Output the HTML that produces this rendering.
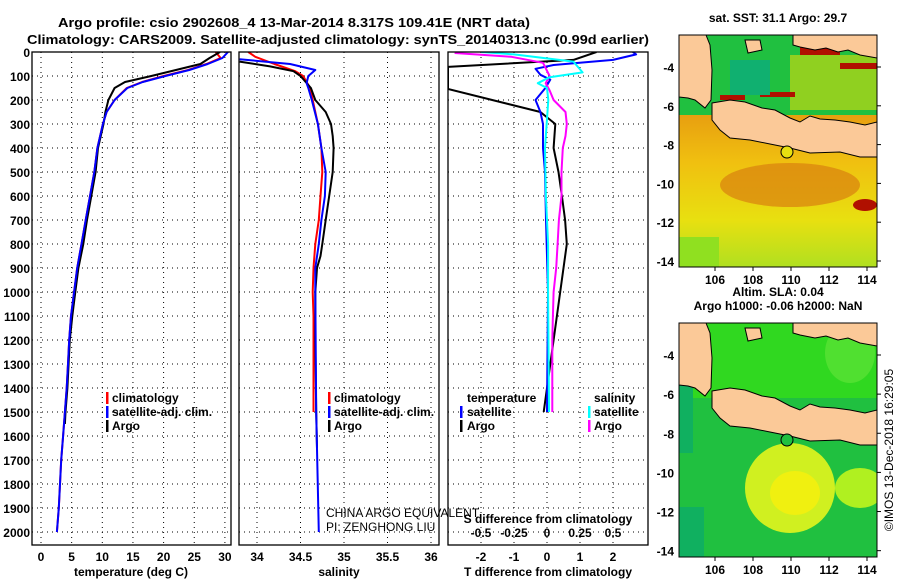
<!DOCTYPE html>
<html><head><meta charset="utf-8"><style>
html,body{margin:0;padding:0;background:#fff;}
svg{display:block;font-family:"Liberation Sans",sans-serif;}
.t{font-weight:bold;font-size:13px;fill:#000;}
.tk{font-weight:bold;font-size:12px;fill:#000;}
.nb{font-weight:normal;}
.g{stroke:#000;stroke-width:1;stroke-dasharray:1,4;}
</style></head><body>
<svg id="fig" width="900" height="580" viewBox="0 0 900 580" xmlns="http://www.w3.org/2000/svg">
<text class="t" x="294" y="27" text-anchor="middle" font-size="14" textLength="472" lengthAdjust="spacingAndGlyphs">Argo profile: csio 2902608_4 13-Mar-2014 8.317S 109.41E (NRT data)</text>
<text class="t" x="338" y="44" text-anchor="middle" font-size="14" textLength="622" lengthAdjust="spacingAndGlyphs">Climatology: CARS2009. Satellite-adjusted climatology: synTS_20140313.nc (0.99d earlier)</text>
<g id="panels"></g>
<g id="maps"></g>
<text class="tk nb" transform="translate(893,450) rotate(-90)" text-anchor="middle" font-size="12">©IMOS 13-Dec-2018 16:29:05</text>
</svg>
<script>
// ---------- data ----------
const depthTicks = [0,100,200,300,400,500,600,700,800,900,1000,1100,1200,1300,1400,1500,1600,1700,1800,1900,2000];
const tempTicks = [0,5,10,15,20,25,30];
const salTicks = [34,34.5,35,35.5,36];
const tdiffTicks = [-2,-1,0,1,2];
const sdiffTicks = [-0.5,-0.25,0,0.25,0.5];
const sdiffTickLabels = ['-0.5','-0.25','0','0.25','0.5'];

const tArgoDepth = [0,25,50,75,100,125,150,200,250,300,400,500,600,700,800,900,1000,1100,1200,1300,1400,1500,1550];
const tArgo      = [29.2,27.5,26,22,18,13.7,12,11,10.5,10.2,9.3,8.9,8.2,7.5,6.9,6.1,5.6,5.1,4.7,4.5,4.3,4.0,3.9];
const tClimDepth = [0,25,50,75,100,125,150,200,250,300,400,500,600,700,800,900,1000,1100,1200,1300,1400,1500,1600,1700,1800,1900,2000];
const tClim      = [28.5,29.3,27,24,20,16.5,14,12,10.7,10.1,9.2,8.7,8.0,7.3,6.6,5.9,5.4,4.9,4.6,4.4,4.2,3.9,3.6,3.3,3.1,2.9,2.6];
const tSat       = [30.5,29.6,27.2,24.2,20.3,16.6,14.1,12,10.7,10.1,9.2,8.7,8.0,7.3,6.6,5.9,5.4,4.9,4.6,4.4,4.2,3.9,3.6,3.3,3.1,2.9,2.6];

const sArgoDepth = [40,60,80,100,150,200,250,300,350,400,500,600,700,800,850,900,1000,1200,1500,1650];
const sArgo      = [33.8,34.15,34.42,34.5,34.62,34.67,34.79,34.85,34.87,34.88,34.87,34.83,34.79,34.75,34.73,34.69,34.67,34.67,34.68,34.69];
const sClimDepth = [0,20,50,80,100,150,200,300,400,500,600,700,800,900,1000,1100,1500];
const sClim      = [33.9,33.98,34.2,34.44,34.53,34.61,34.64,34.7,34.74,34.75,34.73,34.71,34.67,34.65,34.64,34.65,34.65];
const sSatDepth  = [30,50,75,100,130,150,200,300,400,500,600,700,800,900,1000,1500,2000];
const sSat       = [33.8,34.38,34.67,34.59,34.57,34.59,34.63,34.7,34.74,34.79,34.78,34.74,34.71,34.67,34.67,34.68,34.71];

const dTArgoDepth = [0,33,62,154,250,300,400,500,600,700,800,900,1000,1100,1200,1300,1400,1500];
const dTArgo      = [1.5,0.8,-3,-3,-0.2,0.25,0.2,0.35,0.45,0.55,0.6,0.5,0.4,0.3,0.2,0.1,0.0,-0.1];
const dTSatDepth  = [0,10,33,54,70,95,115,150,200,250,300,400,500,700,1000,1500];
const dTSat       = [2.6,2.7,2.0,0.2,-0.35,-0.2,0.1,-0.05,-0.35,-0.2,-0.12,-0.12,-0.06,-0.03,0.03,0.0];
const dSSatDepth  = [0,10,40,85,105,130,150,200,400,600,800,1000,1500];
const dSSat       = [-0.5,-0.25,0.2,0.27,0.02,-0.07,0,0.01,-0.015,-0.008,0.008,0.008,0.015];
const dSArgoDepth = [4,20,45,100,130,160,200,250,300,350,400,500,600,700,800,900,1000,1100,1200,1500];
const dSArgo      = [-0.7,-0.27,-0.03,0.02,-0.01,0.02,0.05,0.14,0.15,0.14,0.12,0.11,0.11,0.09,0.08,0.07,0.05,0.045,0.04,0.04];

// ---------- helpers ----------
const NS='http://www.w3.org/2000/svg';
const TOP=52, BOT=545;
const yD = d => TOP + d*0.24;
const xT = v => 41 + v*6.13;
const xS = v => 257 + (v-34)*87;
const xDT = v => 547 + v*33;
const xDS = v => 547 + v*132;
function mk(tag, attrs, parent){const e=document.createElementNS(NS,tag);for(const k in attrs)e.setAttribute(k,attrs[k]);parent.appendChild(e);return e;}
const panels=document.getElementById('panels');

function frame(x0,x1,name){
  const g=mk('g',{},panels);
  
  
  const cp=mk('clipPath',{id:'c'+name},g);
  mk('rect',{x:x0,y:TOP,width:x1-x0,height:BOT-TOP},cp);
  depthTicks.forEach(d=>{ if(d>0){ const l=mk('line',{x1:x0,x2:x1,y1:yD(d),y2:yD(d),class:'g'},g);   }});
  return g;
}
function border(g,x0,x1){
  const r=mk('rect',{x:x0,y:TOP,width:x1-x0,height:BOT-TOP,fill:'none',stroke:'#000','stroke-width':1.3},g);
  
  
}
function vgrid(g,xs){xs.forEach(x=>{const l=mk('line',{x1:x,x2:x,y1:TOP,y2:BOT,class:'g'},g);  });}
function line(g,depths,vals,fx,color,name,clip,w){
  const pts=depths.map((d,i)=>fx(vals[i]).toFixed(1)+','+yD(d).toFixed(1)).join(' ');
  const p=mk('polyline',{points:pts,fill:'none',stroke:color,'stroke-width':w||2,'clip-path':'url(#c'+clip+')','stroke-linejoin':'round'},g);
  
  
}
function txt(g,x,y,s,anchor,name,cls,extra){
  const t=mk('text',Object.assign({x:x,y:y,'text-anchor':anchor||'start',class:cls||'tk'},extra||{}),g);
  t.textContent=s;
  
  
  return t;
}
function legendMark(g,x,y,color){
  const r=mk('rect',{x:x,y:y-10,width:2.5,height:12,fill:color},g);
  
  
}

// y-axis labels
const ya=mk('g',{},panels);


depthTicks.forEach(d=>txt(ya,30,yD(d)+5,String(d),'end','depth-tick-label'));

// ---- panel 1 temperature
let g1=frame(32,231,'temp-panel');
vgrid(g1,tempTicks.map(xT));
line(g1,tClimDepth,tClim,xT,'#f00','temp-climatology-line','temp-panel');
line(g1,tArgoDepth,tArgo,xT,'#000','temp-argo-line','temp-panel');
line(g1,tClimDepth,tSat,xT,'#0000ff','temp-satellite-line','temp-panel');
border(g1,32,231);
tempTicks.forEach(v=>txt(g1,xT(v),561,String(v),'middle','temp-tick-label'));
txt(g1,131,576,'temperature (deg C)','middle','temp-axis-title');
legendMark(g1,106,402,'#f00');txt(g1,112,402,'climatology','start','legend-climatology');
legendMark(g1,106,416,'#0000ff');txt(g1,112,416,'satellite-adj. clim.','start','legend-satellite');
legendMark(g1,106,430,'#000');txt(g1,112,430,'Argo','start','legend-argo');

// ---- panel 2 salinity
let g2=frame(239,439,'sal-panel');
vgrid(g2,salTicks.map(xS));
line(g2,sClimDepth,sClim,xS,'#f00','sal-climatology-line','sal-panel');
line(g2,sArgoDepth,sArgo,xS,'#000','sal-argo-line','sal-panel');
line(g2,sSatDepth,sSat,xS,'#0000ff','sal-satellite-line','sal-panel');
border(g2,239,439);
salTicks.forEach(v=>txt(g2,xS(v),561,String(v),'middle','sal-tick-label'));
txt(g2,339,576,'salinity','middle','sal-axis-title');
legendMark(g2,328,402,'#f00');txt(g2,334,402,'climatology','start','legend-climatology');
legendMark(g2,328,416,'#0000ff');txt(g2,334,416,'satellite-adj. clim.','start','legend-satellite');
legendMark(g2,328,430,'#000');txt(g2,334,430,'Argo','start','legend-argo');
txt(g2,326,517,'CHINA ARGO EQUIVALENT','start','float-owner-note','tk nb');
txt(g2,326,531,'PI: ZENGHONG LIU','start','pi-note','tk nb');

// ---- panel 3 differences
let g3=frame(448,648,'diff-panel');
vgrid(g3,tdiffTicks.map(xDT));
line(g3,dTArgoDepth,dTArgo,xDT,'#000','tdiff-argo-line','diff-panel');
line(g3,dTSatDepth,dTSat,xDT,'#0000ff','tdiff-satellite-line','diff-panel');
line(g3,dSArgoDepth,dSArgo,xDS,'#ff00ff','sdiff-argo-line','diff-panel');
line(g3,dSSatDepth,dSSat,xDS,'#00ffff','sdiff-satellite-line','diff-panel');
border(g3,448,648);
tdiffTicks.forEach(v=>txt(g3,xDT(v),561,String(v),'middle','tdiff-tick-label'));
txt(g3,548,576,'T difference from climatology','middle','tdiff-axis-title');
sdiffTicks.forEach((v,i)=>txt(g3,xDS(v),537,sdiffTickLabels[i],'middle','sdiff-tick-label'));
txt(g3,548,523,'S difference from climatology','middle','sdiff-axis-title');
txt(g3,467,402,'temperature','start','legend-temperature-heading');
legendMark(g3,460,416,'#0000ff');txt(g3,467,416,'satellite','start','legend-t-satellite');
legendMark(g3,460,430,'#000');txt(g3,467,430,'Argo','start','legend-t-argo');
txt(g3,594,402,'salinity','start','legend-salinity-heading');
legendMark(g3,588,416,'#00ffff');txt(g3,594,416,'satellite','start','legend-s-satellite');
legendMark(g3,588,430,'#ff00ff');txt(g3,594,430,'Argo','start','legend-s-argo');

// ---------- maps ----------
const mapLons=[106,108,110,112,114];
const mapLats=[-4,-6,-8,-10,-12,-14];
const maps=document.getElementById('maps');
const landSumatra=[[679,35],[706,35],[710,45],[712,70],[711,100],[705,108],[695,100],[688,98],[679,97]];
const landIsle=[[745,40],[760,40],[762,50],[748,53]];
const landBorneo=[[793,35],[877,35],[877,58],[860,55],[848,50],[838,52],[826,48],[815,50],[800,47],[793,45]];
const landJava=[[712,103],[730,100],[745,102],[762,108],[775,110],[790,118],[800,122],[810,116],[820,119],[835,120],[850,122],[865,125],[877,122],[877,157],[860,157],[840,152],[810,153],[790,148],[770,144],[750,140],[730,138],[720,130],[712,120]];
function poly(g,pts,dy,fill,name){
  const p=mk('polygon',{points:pts.map(p=>p[0]+','+(p[1]+dy)).join(' '),fill:fill,stroke:'#000','stroke-width':1},g);
  
  
}
function map(top,h,dy,kind,title1,title2){
  const g=mk('g',{},maps);
  
  
  const id='m'+kind;
  const defs=mk('defs',{},g);
  const cp=mk('clipPath',{id:id},defs);
  mk('rect',{x:679,y:top,width:198,height:h},cp);
  const b=mk('g',{'clip-path':'url(#'+id+')'},g);
  if(kind==='sst'){
    const lg=mk('linearGradient',{id:'gs',x1:0,y1:0,x2:0,y2:1},defs);
    [['0','#f0c020'],['0.35','#e8a010'],['0.55','#f0c010'],['0.8','#e8e010'],['1','#b0e020']].forEach(s=>mk('stop',{offset:s[0],'stop-color':s[1]},lg));
    mk('rect',{x:679,y:top,width:198,height:h,fill:'url(#gs)'},b);
    mk('rect',{x:679,y:top,width:198,height:80,fill:'#20c040'},b);
    mk('rect',{x:790,y:top+20,width:87,height:55,fill:'#90d020'},b);
    mk('rect',{x:800,y:top+12,width:40,height:8,fill:'#b01000'},b);
    mk('rect',{x:840,y:top+28,width:37,height:6,fill:'#b01000'},b);
    mk('rect',{x:760,y:top+57,width:35,height:5,fill:'#b01000'},b);
    mk('rect',{x:720,y:top+60,width:25,height:5,fill:'#b01000'},b);
    mk('rect',{x:730,y:top+25,width:40,height:35,fill:'#10b070'},b);
    mk('ellipse',{cx:790,cy:top+150,rx:70,ry:22,fill:'#d88010',opacity:0.7},b);
    mk('ellipse',{cx:865,cy:top+170,rx:12,ry:6,fill:'#b01000'},b);
    mk('rect',{x:679,y:top+h-30,width:40,height:30,fill:'#90e020'},b);
  } else {
    mk('rect',{x:679,y:top,width:198,height:h,fill:'#30d820'},b);
    mk('rect',{x:679,y:top+75,width:198,height:h-75,fill:'#20c040'},b);
    mk('rect',{x:679,y:top+60,width:14,height:70,fill:'#10b060'},b);
    mk('rect',{x:679,y:top+h-50,width:25,height:50,fill:'#10b060'},b);
    mk('ellipse',{cx:790,cy:top+165,rx:45,ry:45,fill:'#d0f020'},b);
    mk('ellipse',{cx:795,cy:top+170,rx:25,ry:22,fill:'#f0f010'},b);
    mk('ellipse',{cx:860,cy:top+165,rx:25,ry:20,fill:'#b0f020'},b);
    mk('ellipse',{cx:850,cy:top+30,rx:25,ry:30,fill:'#50e030'},b);
  }
  poly(b,landSumatra,dy,'#fbc998','land-sumatra');
  poly(b,landIsle,dy,'#fbc998','land-island');
  poly(b,landBorneo,dy,'#fbc998','land-borneo');
  poly(b,landJava,dy,'#fbc998','land-java');
  const c=mk('circle',{cx:787,cy:152+dy,r:6,fill:kind==='sst'?'#e8e010':'#20c040',stroke:'#000','stroke-width':1},b);
  
  
  const r=mk('rect',{x:679,y:top,width:198,height:h,fill:'none',stroke:'#000','stroke-width':1},g);
  
  
  const yl = lat => top + 32 + (-4-lat)*19.4*(h/232);
  mapLats.forEach(l=>{mk('line',{x1:877,x2:881,y1:yl(l),y2:yl(l),stroke:'#000'},g);txt(g,674,yl(l)+5,String(l),'end','map-lat-label');});
  mapLons.forEach(l=>{const x=715+(l-106)*19;mk('line',{x1:x,x2:x,y1:top+h,y2:top+h+4,stroke:'#000'},g);txt(g,x,top+h+17,String(l),'middle','map-lon-label');});
  txt(g,778,top-13+(title2?-14:0),title1,'middle','map-title');
  if(title2) txt(g,778,top-13,title2,'middle','map-subtitle');
}
map(35,232,0,'sst','sat. SST: 31.1 Argo: 29.7');
map(323,234,288,'sla','Altim. SLA: 0.04','Argo h1000: -0.06 h2000: NaN');
</script>
</body></html>
